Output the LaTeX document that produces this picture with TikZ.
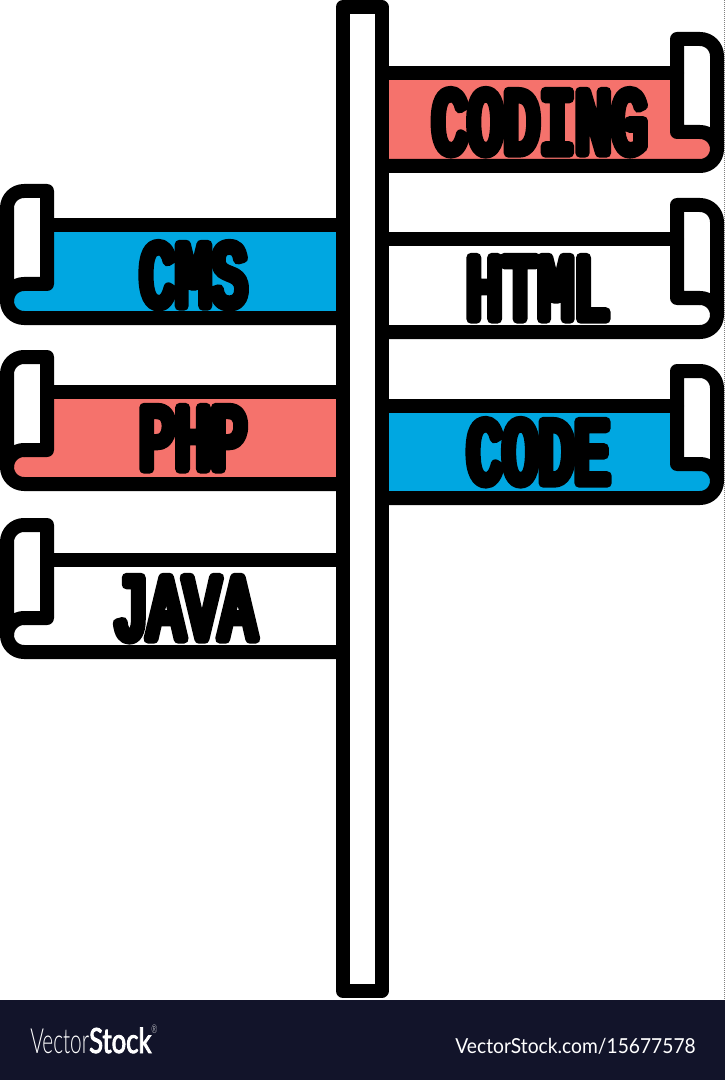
\documentclass[tikz,border=0pt]{standalone}
\usepackage{fontspec}
\setmainfont{Lato}
\newfontfamily\signfont[FakeBold=10,FakeStretch=0.64]{Liberation Mono}
\newfontfamily\logofont[FakeStretch=0.6]{Lato Light}
\newfontfamily\logobold[FakeStretch=0.74,FakeBold=2.5]{Lato}
\newfontfamily\urlfont[FakeStretch=0.93]{Lato}
\definecolor{signred}{HTML}{F5726C}
\definecolor{signblue}{HTML}{00A7E1}
\definecolor{footerbg}{HTML}{12142A}
\tikzset{
  x=0.75pt,y=-0.75pt,
  signline/.style={draw=black,line width=10.5pt,line join=round,line cap=round},
  signtext/.style={anchor=base,inner sep=0pt,outer sep=0pt,font=\signfont\fontsize{70}{72}\selectfont},
}
\newcommand{\roundtext}[1]{\special{pdf:code 1 j 1 J}#1}
% #1 = xscale, #2 = x of the mirror axis, #3 = top y, #4 = fill colour
\newcommand{\bannershape}[4]{%
  \begin{scope}[shift={(#2,#3)},xscale=#1]
    \fill[#4] (26,34.5) -- (315,34.5) -- (315,93) -- (338,93)
      arc[start angle=-90,end angle=0,radius=17]
      arc[start angle=0,end angle=90,radius=17] -- (26,127) -- cycle;
    \draw[signline] (26,34.5) -- (315,34.5);
    \draw[signline] (338,93) arc[start angle=-90,end angle=0,radius=17];
    \draw[signline] (26,127) -- (338,127)
      arc[start angle=90,end angle=0,radius=17] -- (355,17)
      arc[start angle=0,end angle=-90,radius=17] -- (315,0) -- (315,93) -- (338,93);
  \end{scope}}
\begin{document}
\begin{tikzpicture}
\useasboundingbox (0,0) rectangle (725,1080);
\fill[white] (0,0) rectangle (725,1080);
\draw[gray,line width=0.5pt,densely dotted] (724.5,0) -- (724.5,1000);

\bannershape{1}{362}{39}{signred}
\bannershape{1}{362}{205}{white}
\bannershape{1}{362}{371}{signblue}
\bannershape{-1}{362}{191}{signblue}
\bannershape{-1}{362}{357}{signred}
\bannershape{-1}{362}{525}{white}

\draw[signline,fill=white] (343,7) rectangle (381.5,991);

\node[signtext] (coding) at (539.5,153) {\roundtext{CODING}};
\node[signtext] (html) at (538,319) {\roundtext{HTML}};
\node[signtext] (code) at (538.5,483) {\roundtext{CODE}};
\node[signtext] (cms) at (193.5,306) {\roundtext{CMS}};
\node[signtext] (php) at (193,469) {\roundtext{PHP}};
\node[signtext] (java) at (184,639) {\roundtext{JAVA}};

\fill[footerbg] (0,1000) rectangle (725,1080);
\node[anchor=base west,inner sep=0pt,text=white,font=\fontsize{26}{28}\selectfont] (logo) at (30,1053)
  {{\logofont Vector}{\logobold Stock}\raisebox{1.1ex}{\logofont\fontsize{9}{9}\selectfont ®}};
\node[anchor=base east,inner sep=0pt,text=white,font=\urlfont\fontsize{15.5}{17}\selectfont] (url) at (696,1053)
  {VectorStock.com/15677578};
\end{tikzpicture}
\end{document}
